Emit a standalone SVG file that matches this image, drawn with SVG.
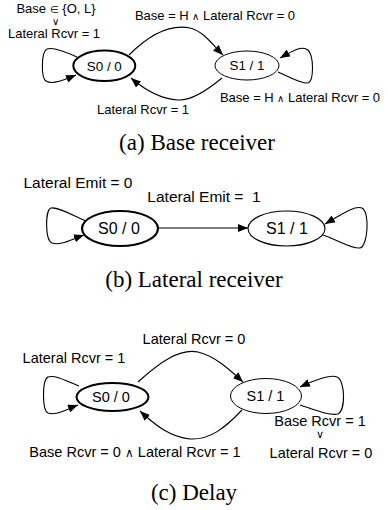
<svg xmlns="http://www.w3.org/2000/svg" width="388" height="510" viewBox="0 0 388 510">
<style>
.lbl{font-family:"Liberation Sans",Arial,sans-serif;fill:#000;text-anchor:middle}
.cap{font-family:"Liberation Serif","Times New Roman",serif;fill:#000;text-anchor:middle;font-size:23px}
.st{fill:#fff;stroke:#000}
.e{fill:none;stroke:#000;stroke-width:1.1}
.sym{font-size:0.8em}
</style>
<defs>
<marker id="ah" viewBox="0 0 10 8" refX="10" refY="4" markerWidth="10" markerHeight="8" markerUnits="userSpaceOnUse" orient="auto">
<path d="M0 0 L10 4 L0 8 Z" fill="#000"/>
</marker>
</defs>
<rect width="388" height="510" fill="#fff"/>

<g id="connectors">
<!-- (a) -->
<path class="e" marker-end="url(#ah)" d="M 129 55 C 150 34, 170 24, 190 28 C 203 31, 212 44, 223 55"/>
<path class="e" marker-end="url(#ah)" d="M 222 78 C 205 92, 190 101, 178 100 C 160 99, 145 90, 131 78"/>
<path class="e" marker-end="url(#ah)" d="M 77 57 C 62 50, 52 47, 47 49 C 41 52, 41 78, 46 81 C 53 85, 64 80, 76 75"/>
<path class="e" marker-end="url(#ah)" d="M 278 72 C 292 78, 302 84, 308 83 C 314 81, 314 56, 308 50 C 302 45, 292 51, 280 58"/>
<!-- (b) -->
<path class="e" marker-end="url(#ah)" d="M 158 228 L 248 228"/>
<path class="e" marker-end="url(#ah)" d="M 86 221 C 70 214, 58 207, 51 208 C 45 210, 45 240, 52 243 C 60 246, 70 240, 84 235"/>
<path class="e" marker-end="url(#ah)" d="M 323 235 C 340 241, 352 249, 360 248 C 368 246, 370 212, 362 208 C 355 205, 342 214, 325 224"/>
<!-- (c) -->
<path class="e" marker-end="url(#ah)" d="M 138 382 C 160 362, 180 348, 198 352 C 215 356, 230 370, 243 382"/>
<path class="e" marker-end="url(#ah)" d="M 242 410 C 225 428, 210 440, 190 439 C 170 437, 155 425, 140 411"/>
<path class="e" marker-end="url(#ah)" d="M 79 386 C 65 380, 55 375, 48 377 C 42 380, 42 410, 48 413 C 55 416, 65 410, 78 405"/>
<path class="e" marker-end="url(#ah)" d="M 300 405 C 315 410, 330 416, 338 414 C 346 410, 345 380, 337 377 C 330 374, 315 380, 300 387"/>
</g>

<g id="a-S0"><ellipse class="st" cx="104.3" cy="65.8" rx="31" ry="15.2" stroke-width="2"/><text class="lbl" x="104.3" y="70.5" font-size="13.4">S0 / 0</text></g>
<g id="a-S1"><ellipse class="st" cx="247" cy="65.5" rx="32" ry="14.5" stroke-width="1"/><text class="lbl" x="247" y="70.2" font-size="13.4">S1 / 1</text></g>

<g id="a-labels">
<text class="lbl" x="56" y="13" font-size="13">Base <tspan class="sym">∈</tspan> {O, L}</text>
<text class="lbl" x="55" y="25" font-size="10" fill="#444">∨</text>
<text class="lbl" x="54" y="38" font-size="13">Lateral Rcvr = 1</text>
<text class="lbl" x="215" y="20" font-size="13">Base = H <tspan class="sym">∧</tspan> Lateral Rcvr = 0</text>
<text class="lbl" x="143" y="114" font-size="13">Lateral Rcvr = 1</text>
<text class="lbl" x="300" y="102" font-size="13">Base = H <tspan class="sym">∧</tspan> Lateral Rcvr = 0</text>
</g>
<text class="cap" x="197" y="150">(a) Base receiver</text>

<g id="b-S0"><ellipse class="st" cx="120" cy="228.5" rx="38" ry="17.5" stroke-width="2.2"/><text class="lbl" x="119" y="234" font-size="16">S0 / 0</text></g>
<g id="b-S1"><ellipse class="st" cx="286.5" cy="228.5" rx="38.5" ry="17.5" stroke-width="1.1"/><text class="lbl" x="287" y="234" font-size="16">S1 / 1</text></g>
<g id="b-labels">
<text class="lbl" x="78" y="188" font-size="15.5">Lateral Emit = 0</text>
<text class="lbl" x="204" y="202" font-size="15.5" xml:space="preserve">Lateral Emit =  1</text>
</g>
<text class="cap" x="194" y="287">(b) Lateral receiver</text>

<g id="c-S0"><ellipse class="st" cx="112.5" cy="397" rx="36" ry="14" stroke-width="2"/><text class="lbl" x="111" y="402" font-size="14.5">S0 / 0</text></g>
<g id="c-S1"><ellipse class="st" cx="266" cy="396" rx="35.5" ry="17.5" stroke-width="1"/><text class="lbl" x="265.5" y="401" font-size="14.5">S1 / 1</text></g>
<g id="c-labels">
<text class="lbl" x="194" y="344" font-size="14.5">Lateral Rcvr = 0</text>
<text class="lbl" x="74" y="363" font-size="14.5">Lateral Rcvr = 1</text>
<text class="lbl" x="135" y="457" font-size="14.5">Base Rcvr = 0 <tspan class="sym">∧</tspan> Lateral Rcvr = 1</text>
<text class="lbl" x="320" y="426" font-size="14.5">Base Rcvr = 1</text>
<text class="lbl" x="320" y="438" font-size="11" fill="#444">∨</text>
<text class="lbl" x="321" y="458" font-size="14.5">Lateral Rcvr = 0</text>
</g>
<text class="cap" x="194" y="500">(c) Delay</text>
</svg>
